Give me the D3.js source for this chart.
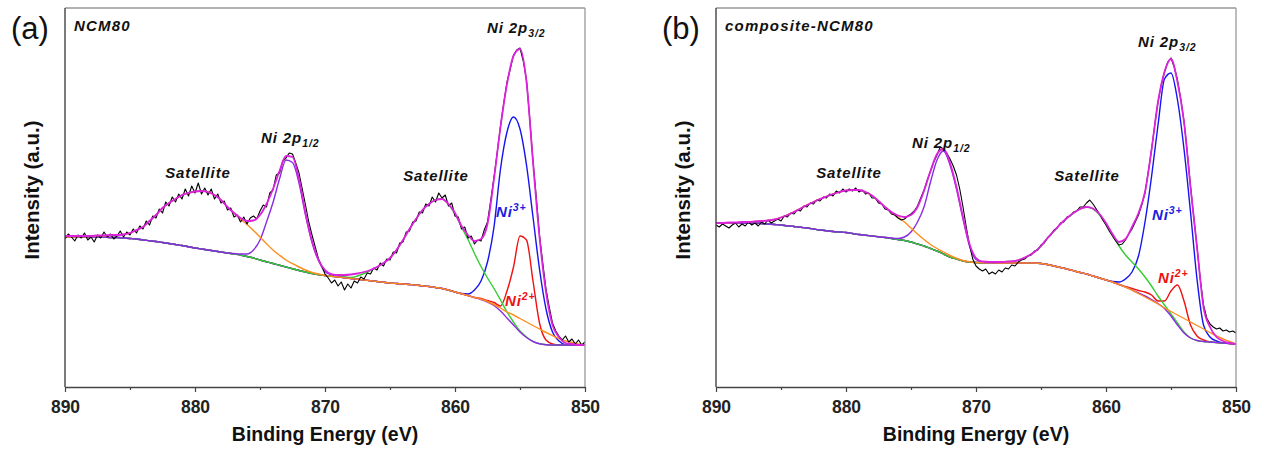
<!DOCTYPE html>
<html>
<head>
<meta charset="utf-8">
<script src="https://cdn.jsdelivr.net/npm/d3@7"></script>
<style>
  body { margin: 0; background: #fff; }
  svg text { font-family: Arial, "Liberation Sans", sans-serif; }
</style>
</head>
<body>
<svg id="chart" width="1264" height="453"></svg>
<script>
// Ni 2p XPS spectra with peak fitting, binding energy 890 -> 850 eV.
// Fitted curves are sampled every 0.5 eV, the measured spectrum every 0.25 eV.
const FIT_START = 890, FIT_STEP = 0.5;
const RAW_START = 890, RAW_STEP = 0.25;
const xMajorTicks = [890, 880, 870, 860, 850];
const xMinorTicks = [885, 875, 865, 855];

// ---------- (a) NCM80 ----------
const rawA = [
  148,153,150,146,152,149,154,147, 150,145,152,149,155,150,153,148,
  151,156,150,155,152,158,154,161, 158,166,162,171,169,178,174,185,
  181,190,185,193,188,198,191,201, 194,204,193,199,192,198,188,193,
  184,186,177,179,170,172,165,170, 163,169,171,168,176,182,180,194,
  197,212,214,226,229,234,233,224, 214,198,182,165,152,140,128,121,
  113,109,104,107,101,105,97,103,  99,106,104,110,108,114,113,119,
  117,124,121,128,127,135,134,144, 145,155,156,165,166,175,174,183,
  181,190,185,194,189,192,181,184, 171,170,158,160,149,151,143,147,
  146,157,165,187,210,235,261,284, 305,318,332,337,339,326,307,268,
  226,190,152,124,98,80,64,56,     51,47,51,45,48,43,47,42,
  45
];
const envelopeA = [
  151,151,151,151,151,151.5,151.5,152, 152,152.5,154,157,160,166,172,179,
  184,188,192,194,195.5,196,195,192, 187,180,174,169,166,166.5,172,183,
  198,216,231,230,208,174,146,127, 117,113,112,112,112.5,113.5,115,117,
  120,124,129,137,147,158,168,177, 183,187,188,183,174,161,152,146,
  148,163,208,260,303,331,338,305, 225,150,95,62,50,44,43,42,
  42
];
const backgroundA = [
  150,150,150,150,150,150,150,149.5, 149.5,149,148.5,148,147,146.3,145.5,144.5,
  143.5,142.5,141.5,140.3,139,138,137,136, 135,134,133,132,130.5,129,127,125.3,
  123.5,121.8,120,118.3,116.5,115,113.5,112.5, 111.5,110.7,110,109.2,108.5,107.7,107,106.2,
  105.5,104.7,104,103.5,103,102.5,102,101.2, 100.5,99.5,98.5,97,95,93.3,91.5,89.5,
  87.5,85,81.5,76,69,62,55,49.5, 45.5,43.3,42.3,42,42,42,42,42,
  42
];
const satellite880A = [
  150,150,150.1,150.3,150.5,150.8,151,151.5, 152,152.5,154,157,160,166,172,179,
  184,188,192,194,195.5,196,195,192, 187,180,174,168,162.5,156.5,150,143.3,
  137,131.8,127,123.3,120,117,114.5,113, 111.5,110.7,110,109.2,108.5,107.7,107,106.2,
  105.5,104.7,104,103.5,103,102.5,102,101.2, 100.5,99.5,98.5,97,95,93.3,91.5,89.5,
  88,85.5,82.5,79,75,72,68.5,65, 61.5,58,54.5,51.5,48.5,46,44.5,43,
  42
];
const ni2p12A = { start: 877, values: [133.5,133,133,137,147,165,184.5,208,227,224.5,204,172,144.5,126.5,115.5,112.2,110.5] };
const satellite861A = { start: 869, values: [110.5,110.2,109.5,111,113.5,116.5,120,124,129,137,147,158,168,177,183,187,188,182.5,173,160,147.5,133.5,120.5,109,98.5,87,75,65,56,50,45.5,43.3,42.3] };
const ni3A = { start: 860, values: [95,93.5,93,97,106,125,160,218,255,270,258,222,170,118,78,55,46,42.3] };
const ni2A = { start: 858, values: [88.5,86.5,84.5,81,96,120,151,147,106,64,47,43] };

// ---------- (b) composite-NCM80 ----------
const rawB = [
  162,160,163,161,159,162,164,160, 163,161,165,162,164,161,165,163,
  167,164,166,168,166,171,170,174, 173,177,176,181,180,184,183,187,
  186,190,189,193,191,196,194,198, 195,198,196,199,195,197,193,194,
  189,189,184,183,178,177,173,172, 169,167,168,171,173,176,181,189,
  197,207,216,225,232,240,238,234, 228,221,212,198,180,160,142,128,
  121,118,116,118,113,115,113,117, 115,119,118,122,121,125,127,128,
  131,132,136,137,142,144,149,152, 157,159,164,165,170,171,175,176,
  180,180,184,187,183,178,173,167, 162,156,151,146,142,143,147,153,
  158,165,172,182,194,215,237,262, 285,302,315,325,329,320,307,288,
  266,235,201,170,140,108,82,69,   63,60,58,59,56,57,55,56,
  54
];
const envelopeB = [
  164,164,164.5,164.5,165,165,165.5,166, 166.5,167.5,169.5,172,175,178.5,182,185,
  188,190.5,193,195,196.5,197,197,195, 191.5,186,180,175,171.5,170,172,180,
  196,216,233,238,224,200,170,143, 129,125.5,125,125,125,125.5,126,128,
  131,135,141,149,156,163,169,174, 178,180,178.5,173,164,153,145,148,
  160,174,195,237,285,315,328,305, 265,200,140,80,60,50,46,44,
  43
];
const backgroundB = [
  164,164,164,164,164,164,164,163.5, 163,162.5,162,161.2,160.5,159.7,159,158,
  157,156.2,155.5,155,154.5,153.5,152.5,151.7, 151,150.2,149.5,148.5,147.5,146.5,145,143,
  141,138.5,136,133,130,128,126,125, 124.5,124.3,124.2,124.1,124,124,124,124,
  124,124,123.5,122.5,121,119.5,118,116.3, 114.5,113,111,109,107,105,102.5,100,
  97,94,91,87.5,83.5,78.5,71,62, 54,49,46.5,45.5,45,44.5,44,43.5,
  43
];
const satellite880B = [
  164,164,164.3,164.4,164.8,165,165.5,166, 166.5,167.5,169.5,172,175,178.5,182,185,
  188,190.5,193,195,196.5,197,197,195, 191.5,186,180,174.5,170,165,159,153,
  147.5,142.5,138.5,135,131.5,128.8,126.5,125.2, 124.5,124.3,124.2,124.1,124,124,124,124,
  124,124,123.5,122.5,121,119.5,118,116.3, 114.5,113,111,109,107,105,102.5,100,
  97,93.5,90,86.5,83,79,75.5,72, 68.5,65,61.5,58,54.5,51,48,45.5,
  43
];
const ni2p12B = { start: 877, values: [149.6,149,148.5,150,155,165,180,205,227,236,222,198,168,141,127.5,124.8,124.3] };
const satellite861B = { start: 869, values: [124.2,124.5,125,125.5,126,128,131,135,141,149,156,163,169,174,178,180,178,172,163,152,141,132,125,118,110,101,91,82,73,64,55,49,46.5] };
const ni3B = { start: 860, values: [107,105.5,105,108,115,131,165,210,262,308,314,287,238,175,108,62,50,46] };
const ni2B = { start: 859, values: [102.5,100.5,98.5,96.5,95,92,86,86,96,102,86,62,51,47] };

// ---------- drawing ----------
const COLORS = {
  raw: "#000000", fit: "#dd22dd", ni3: "#1414f0", ni2: "#f01010",
  sat861: "#33cc33", p12: "#8a2be2", sat880: "#ff8c1a"
};
const svg = d3.select("#chart");
const TOP = 8, BOTTOM = 387;
const y = d3.scaleLinear().domain([0, 379]).range([BOTTOM, TOP]);

function sampled(start, step, values) {
  return values.map((v, i) => [start - i * step, v]);
}
// a fitted peak drawn across the whole range, sitting on the background where it is zero
function onBackground(bg, comp) {
  const off = Math.round((FIT_START - comp.start) / FIT_STEP);
  return bg.map((b, i) => [FIT_START - i * FIT_STEP,
    (i >= off && i < off + comp.values.length) ? comp.values[i - off] : b]);
}

const panels = [
  { key: "a", left: 65, right: 585, tag: "(a)", sample: "NCM80",
    raw: rawA, fit: envelopeA, bg: backgroundA, sat880: satellite880A,
    p12: ni2p12A, sat861: satellite861A, ni3: ni3A, ni2: ni2A,
    labels: { sat1: [198, 178], p12: [261, 143], sat2: [436, 181], p32: [487, 33], ni3: [496, 217], ni2: [505, 306] } },
  { key: "b", left: 716, right: 1236, tag: "(b)", sample: "composite-NCM80",
    raw: rawB, fit: envelopeB, bg: backgroundB, sat880: satellite880B,
    p12: ni2p12B, sat861: satellite861B, ni3: ni3B, ni2: ni2B,
    labels: { sat1: [849, 178], p12: [912, 148], sat2: [1087, 181], p32: [1138, 47], ni3: [1152, 220], ni2: [1158, 283] } }
];

panels.forEach(p => {
  const x = d3.scaleLinear().domain([890, 850]).range([p.left, p.right]);
  const g = svg.append("g");

  svg.append("defs").append("clipPath").attr("id", "clip-" + p.key)
    .append("rect").attr("x", p.left).attr("y", TOP).attr("width", p.right - p.left).attr("height", BOTTOM - TOP);

  const smooth = d3.line().x(d => x(d[0])).y(d => y(d[1])).curve(d3.curveMonotoneX);
  const straight = d3.line().x(d => x(d[0])).y(d => y(d[1]));
  const curves = g.append("g").attr("clip-path", `url(#clip-${p.key})`);

  const layers = [
    { pts: onBackground(p.bg, p.ni2), color: COLORS.ni2, w: 1.4 },
    { pts: onBackground(p.bg, p.ni3), color: COLORS.ni3, w: 1.4 },
    { pts: onBackground(p.bg, p.sat861), color: COLORS.sat861, w: 1.4 },
    { pts: onBackground(p.bg, p.p12), color: COLORS.p12, w: 1.4 },
    { pts: sampled(FIT_START, FIT_STEP, p.sat880), color: COLORS.sat880, w: 1.4 }
  ];
  layers.forEach(l => curves.append("path").attr("d", smooth(l.pts))
    .attr("fill", "none").attr("stroke", l.color).attr("stroke-width", l.w));

  curves.append("path").attr("d", straight(sampled(RAW_START, RAW_STEP, p.raw)))
    .attr("fill", "none").attr("stroke", COLORS.raw).attr("stroke-width", 1.1).attr("stroke-linejoin", "round");
  curves.append("path").attr("d", smooth(sampled(FIT_START, FIT_STEP, p.fit)))
    .attr("fill", "none").attr("stroke", COLORS.fit).attr("stroke-width", 1.8);

  // frame
  g.append("line").attr("x1", p.left).attr("x2", p.right).attr("y1", TOP).attr("y2", TOP)
    .attr("stroke", "#999").attr("stroke-width", 1.3);
  g.append("line").attr("x1", p.right).attr("x2", p.right).attr("y1", TOP).attr("y2", BOTTOM)
    .attr("stroke", "#999").attr("stroke-width", 1.3);
  g.append("line").attr("x1", p.left).attr("x2", p.left).attr("y1", TOP).attr("y2", BOTTOM)
    .attr("stroke", "#444").attr("stroke-width", 1.4);

  // x axis
  const major = g.append("g").attr("transform", `translate(0,${BOTTOM})`)
    .call(d3.axisBottom(x).tickValues(xMajorTicks).tickSize(5).tickSizeOuter(0).tickPadding(8.5).tickFormat(d3.format("d")));
  major.select(".domain").attr("stroke", "#444").attr("stroke-width", 1.4);
  major.selectAll(".tick line").attr("stroke", "#444").attr("stroke-width", 1.2);
  major.selectAll(".tick text").attr("font-size", 17.5).attr("font-weight", "bold").attr("fill", "#222")
    .attr("font-family", "Arial, 'Liberation Sans', sans-serif");
  const minor = g.append("g").attr("transform", `translate(0,${BOTTOM})`)
    .call(d3.axisBottom(x).tickValues(xMinorTicks).tickSize(3).tickSizeOuter(0).tickFormat(""));
  minor.select(".domain").remove();
  minor.selectAll(".tick line").attr("stroke", "#444").attr("stroke-width", 1.2);

  // axis titles
  g.append("text").attr("x", (p.left + p.right) / 2).attr("y", 441).attr("text-anchor", "middle")
    .attr("font-size", 19.5).attr("font-weight", "bold").attr("fill", "#111").text("Binding Energy (eV)");
  const yTitleX = p.left - 26;
  g.append("text").attr("transform", `translate(${yTitleX},190) rotate(-90)`).attr("text-anchor", "middle")
    .attr("font-size", 20.5).attr("font-weight", "bold").attr("fill", "#111").text("Intensity (a.u.)");

  // panel tag and sample name
  g.append("text").attr("x", p.left - 54).attr("y", 39).attr("font-size", 31).attr("fill", "#111").text(p.tag);
  g.append("text").attr("x", p.left + 9).attr("y", 31).attr("font-size", 15).attr("font-weight", "bold")
    .attr("font-style", "italic").attr("letter-spacing", 1.2).attr("fill", "#111").text(p.sample);

  // peak annotations
  const L = p.labels;
  const ann = (pos, color, anchor) => g.append("text").attr("x", pos[0]).attr("y", pos[1])
    .attr("text-anchor", anchor).attr("font-size", 15).attr("font-weight", "bold").attr("font-style", "italic")
    .attr("letter-spacing", 0.9).attr("fill", color);
  ann(L.sat1, "#111", "middle").text("Satellite");
  ann(L.sat2, "#111", "middle").text("Satellite");
  const t12 = ann(L.p12, "#111", "start");
  t12.append("tspan").text("Ni 2p");
  t12.append("tspan").attr("font-size", 10.5).attr("dy", 4).text("1/2");
  const t32 = ann(L.p32, "#111", "start");
  t32.append("tspan").text("Ni 2p");
  t32.append("tspan").attr("font-size", 10.5).attr("dy", 4).text("3/2");
  const t3 = ann(L.ni3, "#1c1ce0", "start");
  t3.append("tspan").text("Ni");
  t3.append("tspan").attr("font-size", 10.5).attr("dy", -6).text("3+");
  const t2 = ann(L.ni2, "#ee1111", "start");
  t2.append("tspan").text("Ni");
  t2.append("tspan").attr("font-size", 10.5).attr("dy", -6).text("2+");
});
</script>
</body>
</html>
